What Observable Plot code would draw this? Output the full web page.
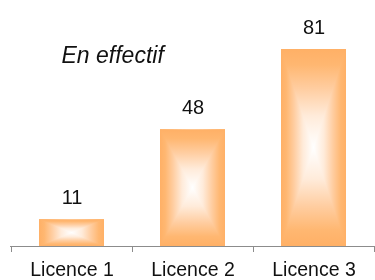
<!DOCTYPE html>
<html>
<head>
<meta charset="utf-8">
<script src="https://cdn.jsdelivr.net/npm/d3@7"></script>
<script src="https://cdn.jsdelivr.net/npm/@observablehq/plot@0.6"></script>
<style>
  html, body { margin: 0; padding: 0; background: #fff; }
  #chart svg { display: block; }
</style>
</head>
<body>
<div id="chart"></div>
<script>
const categories = ["Licence 1", "Licence 2", "Licence 3"];
const values = [11, 48, 81];
const title = "En effectif";

const data = categories.map((c, i) => ({ cat: c, value: values[i] }));

const ORANGE = "#FFB066";
const FONT = "'Liberation Sans', Arial, Helvetica, sans-serif";

const defs = () => {
  const d = d3.create("svg:defs");
  const gh = d.append("linearGradient").attr("id", "gh").attr("x1", 0).attr("x2", 1).attr("y1", 0).attr("y2", 0);
  const gv = d.append("linearGradient").attr("id", "gv").attr("x1", 0).attr("x2", 0).attr("y1", 0).attr("y2", 1);
  const stops = [[0, ORANGE], [0.08, "#FFB771"], [0.2, "#FFCDA0"], [0.34, "#FFEBDA"], [0.5, "#FFFFFF"],
                 [0.66, "#FFEBDA"], [0.8, "#FFCDA0"], [0.92, "#FFB771"], [1, ORANGE]];
  for (const g of [gh, gv]) {
    stops.forEach(([o, c]) => g.append("stop").attr("offset", o).attr("stop-color", c));
  }
  return d.node();
};

const axisLine = (index, { x }, vals, dims) => {
  const g = d3.create("svg:g").attr("stroke", "#8c8c8c").attr("stroke-width", 1);
  const step = x(categories[1]) - x(categories[0]);
  const y0 = dims.height - dims.marginBottom;
  g.append("line").attr("x1", dims.marginLeft).attr("x2", dims.width).attr("y1", y0 + 0.5).attr("y2", y0 + 0.5);
  const bounds = categories.map(c => x(c)).concat([x(categories[categories.length - 1]) + step]);
  for (const b of bounds) {
    g.append("line").attr("x1", b + 0.5).attr("x2", b + 0.5).attr("y1", y0).attr("y2", y0 + 6);
  }
  return g.node();
};

const chart = Plot.plot({
  width: 375,
  height: 280,
  marginTop: 49,
  marginBottom: 34,
  marginLeft: 10,
  marginRight: 0,
  style: { fontFamily: FONT, background: "#fff", color: "#111" },
  x: { domain: categories, padding: 0, label: null },
  y: { domain: [0, 81], axis: null },
  marks: [
    defs,
    Plot.barY(data, { x: "cat", y: "value", fill: "url(#gh)", insetLeft: 28, insetRight: 28 }),
    Plot.barY(data, { x: "cat", y: "value", fill: "url(#gv)", insetLeft: 28, insetRight: 28, className: "vbar" }),
    axisLine,
    Plot.text(data, { x: "cat", y: "value", text: d => String(d.value), dy: -16, lineAnchor: "bottom", fontSize: 20, fill: "#111" }),
    Plot.text([title], { frameAnchor: "top-left", dx: 51, dy: 13, lineAnchor: "bottom", textAnchor: "start", fontStyle: "italic", fontSize: 23, fill: "#111" }),
    Plot.axisX({ tickSize: 0, tickPadding: 16, fontSize: 19.5, fill: "#111", label: null })
  ]
});

d3.select(chart).selectAll(".vbar").style("mix-blend-mode", "darken");
document.getElementById("chart").appendChild(chart);
</script>
</body>
</html>
